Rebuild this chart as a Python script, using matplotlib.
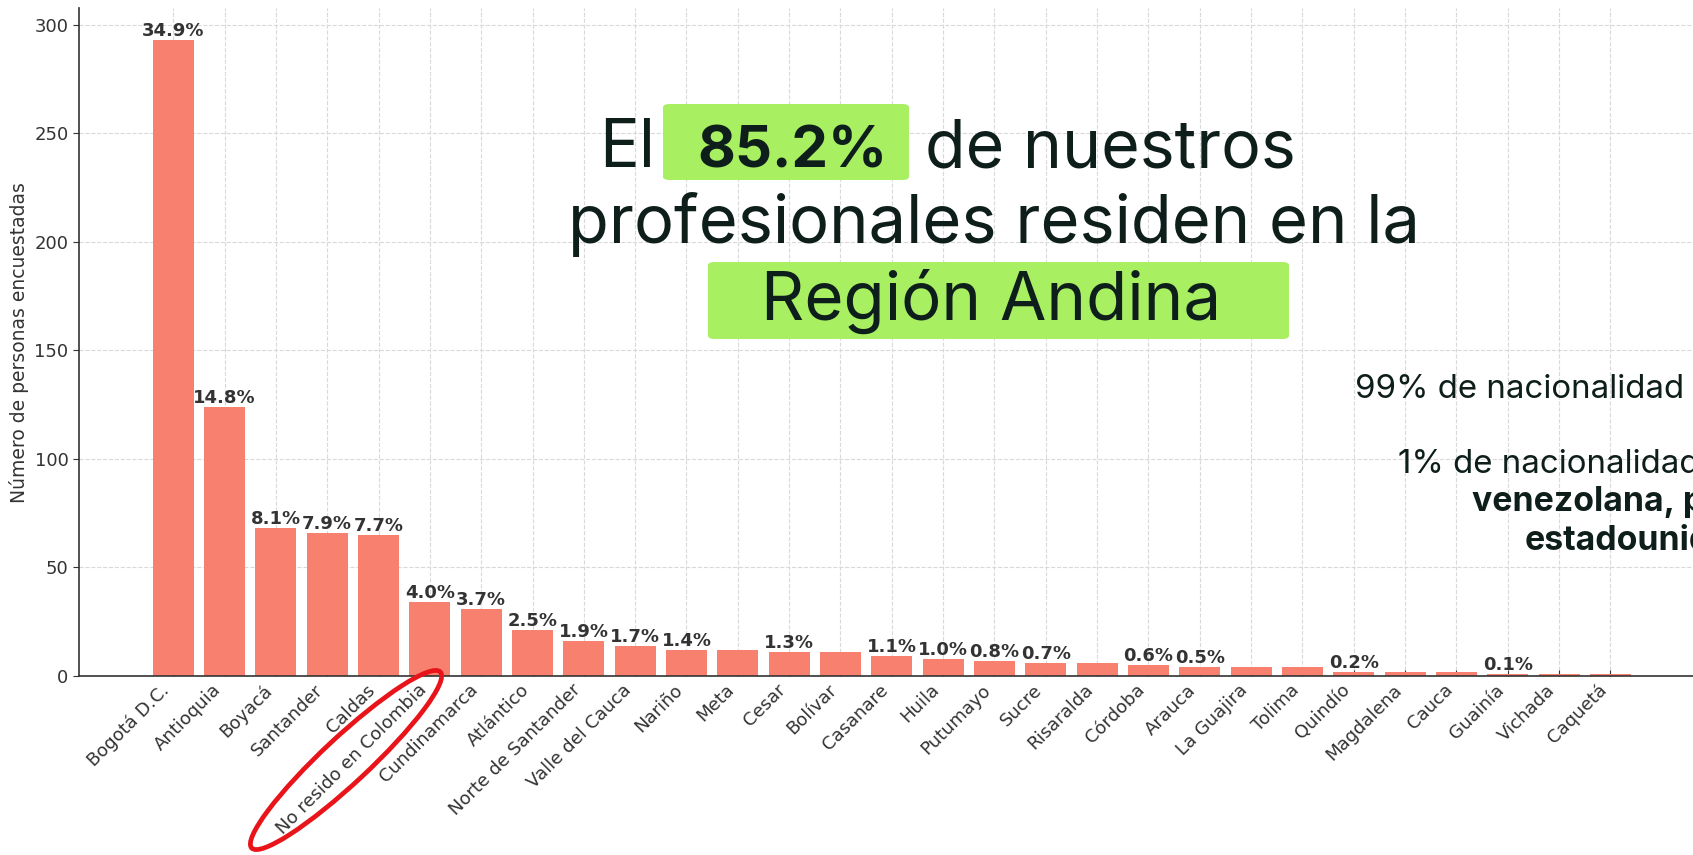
import matplotlib
matplotlib.use("Agg")
import matplotlib.pyplot as plt
from matplotlib.patches import Ellipse, FancyBboxPatch
from matplotlib.transforms import IdentityTransform

# ---------------- Data ----------------
regiones = ["Bogotá D.C.", "Antioquia", "Boyacá", "Santander", "Caldas",
            "No resido en Colombia", "Cundinamarca", "Atlántico",
            "Norte de Santander", "Valle del Cauca", "Nariño", "Meta", "Cesar",
            "Bolívar", "Casanare", "Huila", "Putumayo", "Sucre", "Risaralda",
            "Córdoba", "Arauca", "La Guajira", "Tolima", "Quindío", "Magdalena",
            "Cauca", "Guainía", "Vichada", "Caquetá"]
personas = [293, 124, 68, 66, 65, 34, 31, 21, 16, 14, 12, 12, 11, 11, 9, 8,
            7, 6, 6, 5, 4, 4, 4, 2, 2, 2, 1, 1, 1]

titulo_1 = ["El", "85.2%", "de nuestros"]
titulo_2 = "profesionales residen en la"
titulo_3 = "Región Andina"
nota_1 = "99% de nacionalidad colombiana"
nota_2 = "1% de nacionalidad"
nota_3 = "venezolana, peruana y"
nota_4 = "estadounidense"

W, H = 1693, 855
TXT = "#0e1f1b"
VERDE = "#a8ef62"

# ---------------- Figure ----------------
fig = plt.figure(figsize=(W / 100, H / 100), dpi=100)
fig.patch.set_facecolor("white")
ax = fig.add_axes([78.8 / W, (H - 676) / H, 1626 / W, (676 - 8.2) / H])

x = range(len(regiones))
ax.bar(x, personas, width=0.8, color="#f8806f", zorder=2)

total = sum(personas)
prev = None
for i, n in enumerate(personas):
    lab = f"{n / total * 100:.1f}%"
    if lab != prev:
        ax.text(i, n, lab, ha="center", va="bottom", fontsize=13,
                fontweight="bold", color="#333333", zorder=3)
    prev = lab

ax.set_xticks(list(x))
ax.set_xticklabels(regiones, rotation=45, ha="right", fontsize=13, color="#333333")
ax.tick_params(axis="x", direction="in", length=4, color="#333333")
ax.tick_params(axis="y", labelsize=13, labelcolor="#333333", length=4, color="#333333")
ax.set_ylabel("Número de personas encuestadas", fontsize=13.5, color="#333333")
ax.grid(True, linestyle="--", color="#d9d9d9", linewidth=0.8, zorder=0)
ax.set_axisbelow(True)
for s in ["top", "right"]:
    ax.spines[s].set_visible(False)
for s in ["left", "bottom"]:
    ax.spines[s].set_color("#333333")
    ax.spines[s].set_linewidth(1.2)


def fx(px):
    return px / W


def fy(py):
    return 1 - py / H


# green highlight boxes
for (x0, y0, x1, y1) in [(663, 104, 909, 180), (708, 262, 1289, 339)]:
    fig.add_artist(FancyBboxPatch((fx(x0), fy(y1)), fx(x1 - x0), (y1 - y0) / H,
                                  boxstyle="round,pad=0,rounding_size=0.004",
                                  transform=fig.transFigure, facecolor=VERDE,
                                  edgecolor="none", zorder=5))

fam = ["Inter", "DejaVu Sans"]
t_el = fig.text(fx(655), fy(167), titulo_1[0], ha="right", va="baseline",
                fontsize=48, family=fam, color=TXT, zorder=6)
t_pct = fig.text(fx(792), fy(167), titulo_1[1], ha="center", va="baseline",
                 fontsize=48, family=fam, fontweight="bold", color=TXT, zorder=6)
t_de = fig.text(fx(925), fy(167), titulo_1[2], ha="left", va="baseline",
                fontsize=48, family=fam, color=TXT, zorder=6)
t_l2 = fig.text(fx(568), fy(243), titulo_2, ha="left", va="baseline",
                fontsize=48, family=fam, color=TXT, zorder=6)
t_l3 = fig.text(fx(761), fy(320), titulo_3, ha="left", va="baseline",
                fontsize=48, family=fam, color=TXT, zorder=6)

t_n1 = fig.text(fx(1355), fy(398), nota_1, ha="left", va="baseline",
                fontsize=22, family=fam, color=TXT, zorder=6)
t_n2 = fig.text(fx(1398), fy(473), nota_2, ha="left", va="baseline",
                fontsize=22, family=fam, color=TXT, zorder=6)
t_n3 = fig.text(fx(1472), fy(511), nota_3, ha="left", va="baseline",
                fontsize=22, family=fam, fontweight="bold", color=TXT, zorder=6)
t_n4 = fig.text(fx(1525), fy(550), nota_4, ha="left", va="baseline",
                fontsize=22, family=fam, fontweight="bold", color=TXT, zorder=6)

# fit text widths to the layout
fig.canvas.draw()
r = fig.canvas.get_renderer()


def fit(t, s, target):
    full = t.get_text()
    t.set_text(s)
    w = t.get_window_extent(r).width
    t.set_fontsize(t.get_fontsize() * target / w)
    t.set_text(full)


fit(t_de, titulo_1[2], 371)
fit(t_pct, titulo_1[1], 190)
fit(t_l2, titulo_2, 852)
fit(t_l3, titulo_3, 460)
t_el.set_fontsize(t_de.get_fontsize())
fit(t_n1, "99% de nacionalidad", 330)
t_n2.set_fontsize(t_n1.get_fontsize())
fit(t_n3, "venezolana,", 203)
t_n4.set_fontsize(t_n3.get_fontsize())

# red ellipse around "No resido en Colombia"
fig.add_artist(Ellipse((346, H - 760), width=258, height=46, angle=43,
                       transform=IdentityTransform(), fill=False,
                       edgecolor="#e8141a", linewidth=3.4, zorder=7))

fig.savefig("out.png", dpi=100)
